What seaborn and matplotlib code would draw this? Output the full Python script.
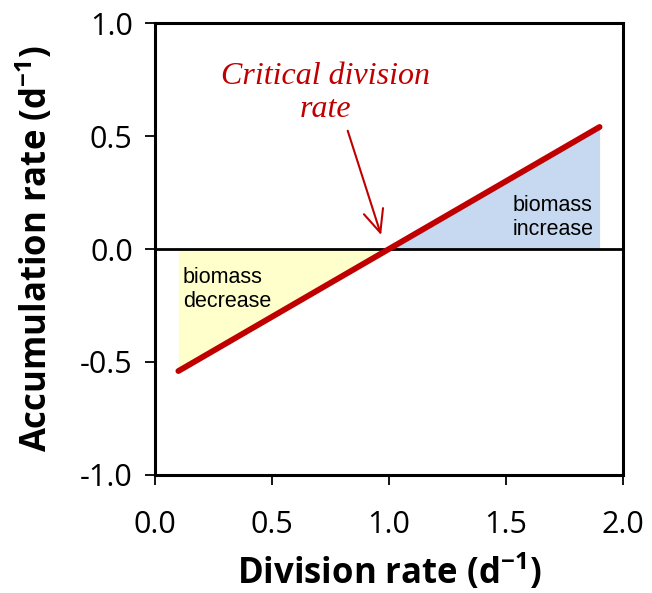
import matplotlib
matplotlib.use("Agg")
import matplotlib.pyplot as plt
import seaborn as sns
import pandas as pd

# Data
division_rate = [0.1, 1.0, 1.9]
accumulation_rate = [-0.54, 0.0, 0.54]
x_ticks = [0.0, 0.5, 1.0, 1.5, 2.0]
y_ticks = [-1.0, -0.5, 0.0, 0.5, 1.0]
x_label = "Division rate (d$^{\\mathbf{-1}}$)"
y_label = "Accumulation rate (d$^{\\mathbf{-1}}$)"

sns.set_style("ticks")
plt.rcParams['font.family'] = ['Open Sans', 'DejaVu Sans']
plt.rcParams['mathtext.fontset'] = 'custom'
plt.rcParams['mathtext.rm'] = 'Open Sans'
plt.rcParams['mathtext.bf'] = 'Open Sans:bold'
plt.rcParams['text.color'] = 'black'
plt.rcParams['axes.labelcolor'] = 'black'

df = pd.DataFrame({"x": division_rate, "y": accumulation_rate})

fig = plt.figure(figsize=(6.52, 5.93), dpi=100)
ax = fig.add_axes([0.2377, 0.199, 0.9555 - 0.2377, 0.9612 - 0.199])

xs = df["x"].values
ys = df["y"].values
ax.fill_between(xs, ys, 0, where=ys <= 0, color="#FFFFCC", linewidth=0, interpolate=True, zorder=1)
ax.fill_between(xs, ys, 0, where=ys >= 0, color="#C6D9F0", linewidth=0, interpolate=True, zorder=1)

ax.axhline(0, color="black", linewidth=2.0, zorder=2)

sns.lineplot(data=df, x="x", y="y", ax=ax, color="#C00000", linewidth=4.2,
             solid_capstyle="round", zorder=3)

ax.set_xlim(0, 2.0)
ax.set_ylim(-1.0, 1.0)
ax.set_xticks(x_ticks)
ax.set_yticks(y_ticks)
ax.set_xticklabels([f"{v:.1f}" for v in x_ticks])
ax.set_yticklabels([f"{v:.1f}" for v in y_ticks])
ax.tick_params(axis="both", direction="out", length=7, width=1.3, labelsize=22,
               color="black", labelcolor="black")
ax.tick_params(axis="x", pad=18)
ax.tick_params(axis="y", pad=9)

for s in ax.spines.values():
    s.set_visible(True)
    s.set_linewidth(2.2)
    s.set_color("black")

ax.set_xlabel(x_label, fontsize=25, fontweight="bold", labelpad=9)
ax.set_ylabel(y_label, fontsize=25, fontweight="bold", labelpad=17)

ax.text(0.73, 0.69, "Critical division\nrate", ha="center", va="center",
        family="Liberation Serif", style="italic", fontsize=23, color="#C00000",
        linespacing=1.15)
ax.annotate("", xy=(0.97, 0.05), xytext=(0.82, 0.535),
            arrowprops=dict(arrowstyle="->,head_length=0.9,head_width=0.4",
                            color="#C00000", lw=1.5, mutation_scale=18))

ax.text(1.70, 0.14, "biomass\nincrease", ha="center", va="center",
        family="Liberation Sans", fontsize=15.5, color="black", linespacing=1.15)
ax.text(0.12, -0.18, "biomass\ndecrease", ha="left", va="center",
        family="Liberation Sans", fontsize=15.5, color="black", linespacing=1.15)

fig.savefig("out.png", dpi=100)
